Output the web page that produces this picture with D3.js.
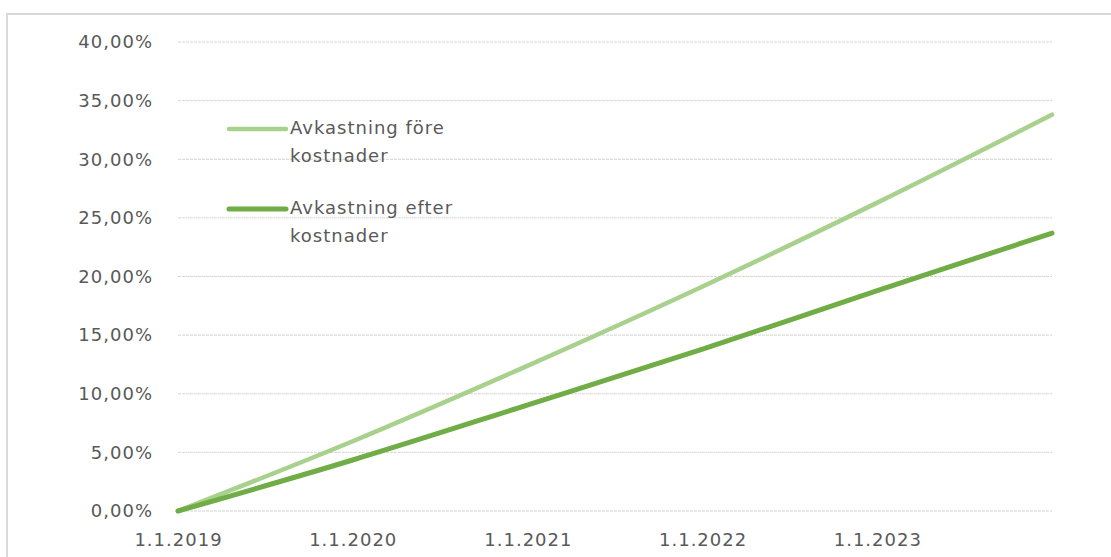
<!DOCTYPE html>
<html>
<head>
<meta charset="utf-8">
<script src="https://cdn.jsdelivr.net/npm/d3@7"></script>
<style>
  html, body { margin: 0; padding: 0; background: #fff; }
  svg { display: block; }
  text { font-family: "DejaVu Sans", sans-serif; fill: #595959; }
</style>
</head>
<body>
<svg id="chart" width="1111" height="557"></svg>
<script>
// Data
const dates = ["2019-01-01", "2020-01-01", "2021-01-01", "2022-01-01", "2023-01-01", "2024-01-01"];
const beforeCosts = [0, 5.95, 12.4, 19.15, 26.3, 33.8];
const afterCosts  = [0, 4.35, 9.05, 13.8, 18.8, 23.7];
const seriesNames = ["Avkastning före kostnader", "Avkastning efter kostnader"];
const yTicks = [0, 5, 10, 15, 20, 25, 30, 35, 40];
const xTickDates = ["2019-01-01", "2020-01-01", "2021-01-01", "2022-01-01", "2023-01-01"];

const parse = d3.timeParse("%Y-%m-%d");
const W = 1111, H = 557;
const margin = { left: 178, right: W - 1052, top: 42, bottom: H - 511 };

const svg = d3.select("#chart");

// outer frame
svg.append("path")
  .attr("d", `M7,${H + 2} L7,14 L${W + 2},14`)
  .attr("fill", "none").attr("stroke", "#d9d9d9").attr("stroke-width", 2);

const x = d3.scaleTime()
  .domain([parse(dates[0]), parse(dates[dates.length - 1])])
  .range([margin.left, W - margin.right]);
const y = d3.scaleLinear()
  .domain([0, 40])
  .range([H - margin.bottom, margin.top]);

// gridlines
svg.append("g")
  .selectAll("line")
  .data(yTicks)
  .join("line")
  .attr("x1", x.range()[0]).attr("x2", x.range()[1])
  .attr("y1", d => y(d)).attr("y2", d => y(d))
  .attr("stroke", "#d4d4d4").attr("stroke-width", 1)
  .attr("stroke-dasharray", "3,1");

// y axis labels
const yAxis = d3.axisLeft(y)
  .tickValues(yTicks)
  .tickSize(0)
  .tickPadding(25)
  .tickFormat(d => d3.format(".2f")(d).replace(".", ",") + "%");
const gy = svg.append("g").attr("transform", `translate(${margin.left},0)`).call(yAxis);
gy.select(".domain").remove();
gy.selectAll("text")
  .style("font-family", "DejaVu Sans, sans-serif")
  .style("font-size", "18px")
  .style("letter-spacing", "1px")
  .attr("fill", "#595959");

// x axis labels
const xAxis = d3.axisBottom(x)
  .tickValues(xTickDates.map(parse))
  .tickSize(0)
  .tickPadding(22)
  .tickFormat(d3.timeFormat("%-d.%-m.%Y"));
const gx = svg.append("g").attr("transform", `translate(0,${y(0)})`).call(xAxis);
gx.select(".domain").remove();
gx.selectAll("text")
  .style("font-family", "DejaVu Sans, sans-serif")
  .style("font-size", "18px")
  .style("letter-spacing", "1px")
  .attr("fill", "#595959");

// lines
const line = d3.line()
  .x((d, i) => x(parse(dates[i])))
  .y(d => y(d))
  .curve(d3.curveMonotoneX);

const series = [
  { name: seriesNames[0], values: beforeCosts, color: "#a9d18e", width: 4.5 },
  { name: seriesNames[1], values: afterCosts, color: "#70ad47", width: 5 }
];

svg.append("g")
  .selectAll("path")
  .data(series)
  .join("path")
  .attr("d", d => line(d.values))
  .attr("fill", "none")
  .attr("stroke", d => d.color)
  .attr("stroke-width", d => d.width)
  .attr("stroke-linecap", "round");

// legend
const legendRows = [
  { s: series[0], y: 129, lines: ["Avkastning före", "kostnader"] },
  { s: series[1], y: 209, lines: ["Avkastning efter", "kostnader"] }
];
const lg = svg.append("g");
legendRows.forEach(r => {
  lg.append("line")
    .attr("x1", 229).attr("x2", 286)
    .attr("y1", r.y).attr("y2", r.y)
    .attr("stroke", r.s.color).attr("stroke-width", r.s.width)
    .attr("stroke-linecap", "round");
  r.lines.forEach((t, i) => {
    lg.append("text")
      .attr("x", 290).attr("y", r.y + i * 28)
      .attr("dominant-baseline", "middle")
      .style("font-size", "18px")
      .style("letter-spacing", "1px")
      .text(t);
  });
});
</script>
</body>
</html>
